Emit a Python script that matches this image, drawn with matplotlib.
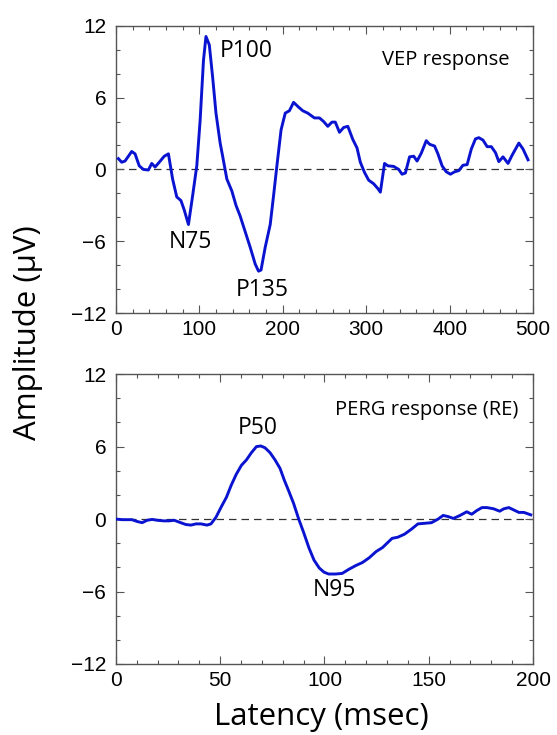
import matplotlib.pyplot as plt
from matplotlib.ticker import MultipleLocator

# VEP response (top panel)
vep_t = [3, 7, 11, 15, 19, 23, 28, 33, 39, 43, 47, 52, 58, 63, 68, 73, 78, 82, 87,
         92, 97, 101, 105, 108, 112, 116, 120, 125, 128, 133, 139, 144, 149, 155,
         161, 167, 171, 174, 179, 185, 189, 193, 198, 203, 208, 213, 219, 224, 230,
         238, 244, 249, 254, 259, 263, 268, 273, 278, 284, 289, 293, 298, 303, 309,
         314, 317, 322, 326, 333, 339, 343, 347, 352, 357, 361, 366, 372, 376, 382,
         386, 391, 396, 401, 406, 411, 416, 421, 426, 431, 435, 440, 445, 450, 455,
         459, 464, 470, 475, 483, 488, 494]
vep_amp = [0.9, 0.6, 0.7, 1.1, 1.5, 1.3, 0.3, 0.0, -0.05, 0.5, 0.2, 0.6, 1.1, 1.3,
           -0.8, -2.3, -2.6, -3.4, -4.6, -2.2, 0.3, 4.1, 9.1, 11.1, 10.4, 7.7, 4.7,
           2.2, 1.1, -0.8, -1.8, -3.0, -3.9, -5.2, -6.5, -7.9, -8.5, -8.4, -6.5,
           -4.6, -2.2, 0.3, 3.3, 4.7, 4.9, 5.6, 5.2, 4.9, 4.7, 4.3, 4.3, 4.0, 3.6,
           3.95, 3.95, 3.1, 3.5, 3.6, 2.5, 1.8, 0.6, -0.25, -0.9, -1.2, -1.6, -1.9,
           0.5, 0.3, 0.25, 0.0, -0.4, -0.3, 1.05, 1.1, 0.7, 1.35, 2.4, 2.1, 1.95,
           1.3, 0.3, -0.2, -0.4, -0.2, -0.1, 0.35, 0.4, 1.7, 2.55, 2.65, 2.45, 1.9,
           1.9, 1.4, 0.65, 1.05, 0.5, 1.2, 2.2, 1.7, 0.8]

# PERG response (bottom panel)
perg_t = [0, 3, 7.7, 10.2, 12.6, 15, 17.4, 19.8, 23, 25.5, 28, 30.3, 33.5, 36, 38.4,
          40.8, 43.7, 45.6, 48, 50.5, 53, 55.3, 57.7, 60.2, 62.6, 65, 67.4, 69.5,
          71.5, 73.9, 76.3, 78.7, 80.8, 82.7, 85.2, 87.6, 90, 92.6, 95, 97.5, 99.8,
          102, 105.3, 108.5, 111.8, 115, 118.2, 121.5, 124.7, 127.9, 130.3, 132.4,
          135.2, 138.4, 141.6, 144.8, 148.1, 151.3, 154.5, 156.9, 159.4, 161.8,
          165, 168.2, 170.6, 173, 175.5, 177.9, 181.1, 184, 186, 188.4, 190.8,
          193.2, 195.6, 198.9]
perg_amp = [0.0, -0.05, -0.05, -0.2, -0.3, -0.1, -0.03, -0.1, -0.15, -0.15, -0.1,
            -0.25, -0.45, -0.5, -0.4, -0.4, -0.5, -0.4, 0.15, 1.0, 1.8, 2.8, 3.7,
            4.45, 4.9, 5.5, 6.0, 6.05, 5.9, 5.5, 4.9, 4.2, 3.2, 2.4, 1.3, 0.03, -1.1,
            -2.4, -3.4, -4.05, -4.4, -4.55, -4.55, -4.5, -4.15, -3.85, -3.6, -3.2,
            -2.7, -2.35, -1.95, -1.6, -1.5, -1.25, -0.85, -0.4, -0.35, -0.3, 0.0,
            0.3, 0.2, 0.05, 0.3, 0.6, 0.4, 0.7, 0.95, 0.95, 0.85, 0.65, 0.85, 0.95,
            0.75, 0.55, 0.55, 0.35]

LINE = "#0a14d0"
TXT_FONT = ["Open Sans", "DejaVu Sans"]
TICK_FONT = "Liberation Sans"

fig = plt.figure(figsize=(5.57, 7.35), dpi=100)
ax1 = fig.add_axes([0.208, 0.574, 0.749, 0.391])
ax2 = fig.add_axes([0.208, 0.0966, 0.749, 0.3944])


def style(ax, xmax, xmaj, xmin):
    ax.set_xlim(0, xmax)
    ax.set_ylim(-12, 12)
    ax.axhline(0, color="#333333", lw=0.9, ls=(0, (6, 4)), zorder=1)
    ax.xaxis.set_major_locator(MultipleLocator(xmaj))
    ax.xaxis.set_minor_locator(MultipleLocator(xmin))
    ax.yaxis.set_major_locator(MultipleLocator(6))
    ax.yaxis.set_minor_locator(MultipleLocator(2))
    ax.tick_params(which="both", direction="in", top=True, right=True,
                   color="#555555", width=0.8)
    ax.tick_params(which="major", length=6, labelsize=15)
    ax.tick_params(axis="y", which="major", pad=7)
    ax.tick_params(axis="x", which="major", pad=5)
    ax.tick_params(which="minor", length=3)
    for sp in ax.spines.values():
        sp.set_color("#555555")
        sp.set_linewidth(1.0)
    for lab in ax.get_xticklabels() + ax.get_yticklabels():
        lab.set_fontfamily(TICK_FONT)


ax1.plot(vep_t, vep_amp, color=LINE, lw=2.1, zorder=3)
style(ax1, 500, 100, 20)
ax1.text(124, 9.9, "P100", fontsize=16.5, family=TXT_FONT, va="center", ha="left")
ax1.text(89, -6.1, "N75", fontsize=16.5, family=TXT_FONT, va="center", ha="center")
ax1.text(176, -10.1, "P135", fontsize=16.5, family=TXT_FONT, va="center", ha="center")
ax1.text(472, 9.1, "VEP response", fontsize=14.5, family=TXT_FONT, va="center", ha="right")

ax2.plot(perg_t, perg_amp, color=LINE, lw=2.1, zorder=3)
style(ax2, 200, 50, 10)
ax2.text(68, 7.5, "P50", fontsize=16.5, family=TXT_FONT, va="center", ha="center")
ax2.text(105, -5.9, "N95", fontsize=16.5, family=TXT_FONT, va="center", ha="center")
ax2.text(193, 9.0, "PERG response (RE)", fontsize=14.5, family=TXT_FONT, va="center", ha="right")

fig.text(0.05, 0.547, "Amplitude (\u03bcV)", rotation=90, fontsize=22.5,
         family=TXT_FONT, va="center", ha="center")
fig.text(0.577, 0.004, "Latency (msec)", fontsize=22.5, family=TXT_FONT,
         va="bottom", ha="center")

fig.savefig("out.png", dpi=100)
